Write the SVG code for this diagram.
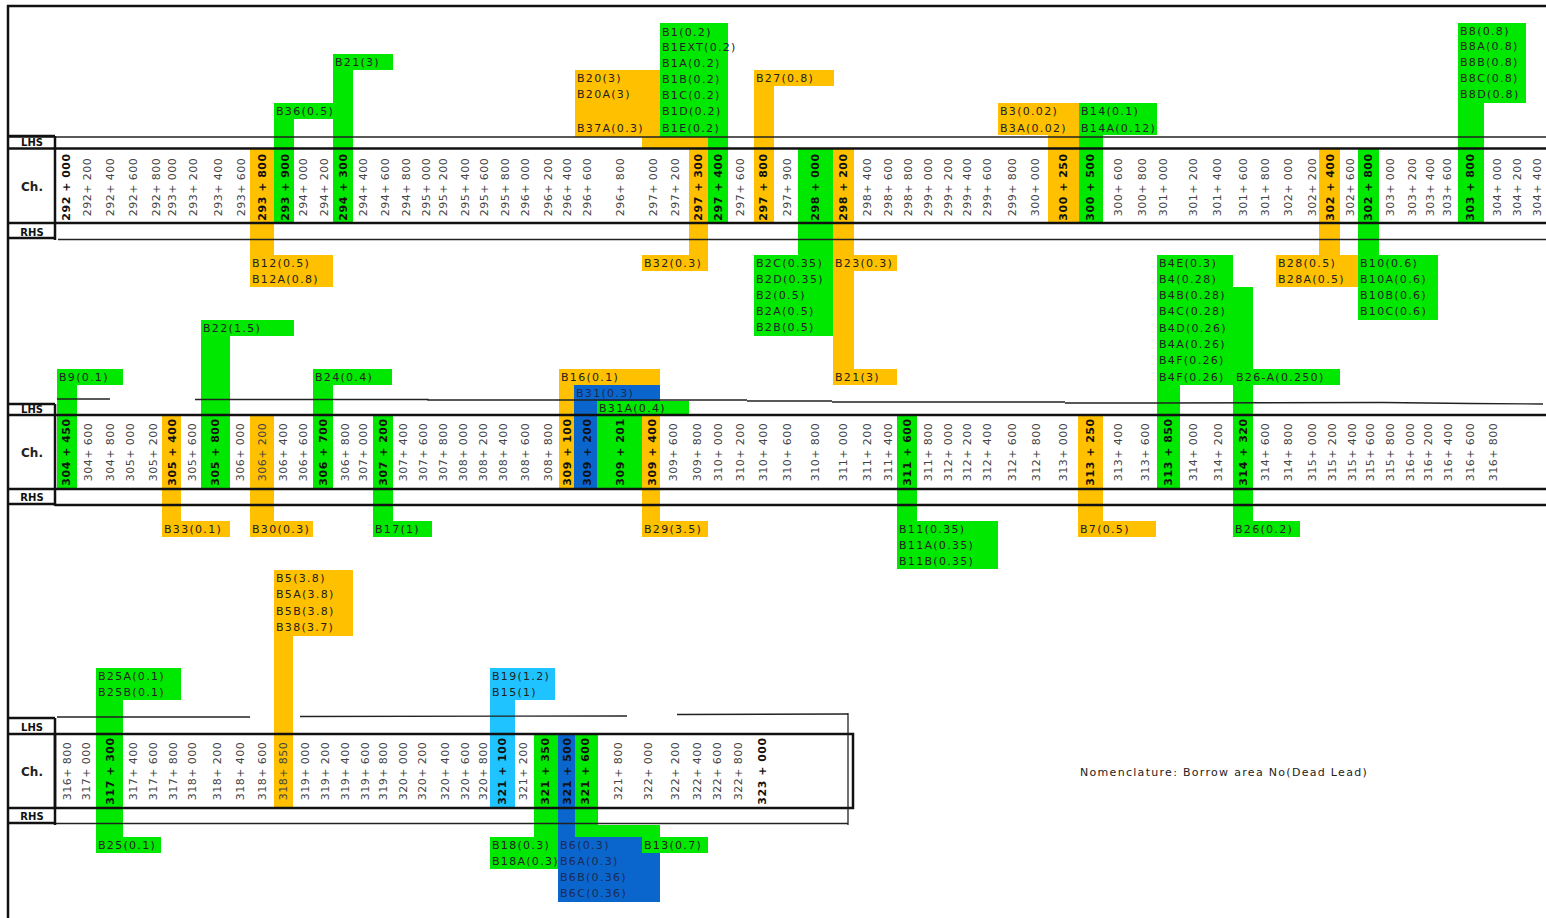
<svg xmlns="http://www.w3.org/2000/svg" width="1546" height="918" viewBox="0 0 1546 918">
<style>
.g{fill:#00E800}.o{fill:#FFC000}.b{fill:#0A66CC}.c{fill:#1EC3FF}
.lb{font-family:'DejaVu Sans',Verdana,sans-serif;font-size:11px;letter-spacing:1.3px;fill:#222}
.ch{font-family:'DejaVu Sans',Verdana,sans-serif;font-size:11px;fill:#444;text-anchor:middle;letter-spacing:0.5px}
.bd{font-weight:bold;fill:#111}
.hd{font-family:'DejaVu Sans',Verdana,sans-serif;font-weight:bold;font-size:10px;text-anchor:middle;fill:#111}
.hc{font-family:'DejaVu Sans',Verdana,sans-serif;font-weight:bold;font-size:12px;text-anchor:middle;fill:#222}
.tk{stroke:#111;stroke-width:2.5;fill:none}
.tn{stroke:#222;stroke-width:1.3;fill:none}
</style>
<rect width="1546" height="918" fill="#fff"/>

<!-- Row 1 top borrow areas -->
<g id="B21-3-top"><rect class="g" x="333" y="54" width="60" height="16"/><rect class="g" x="333" y="54" width="20" height="169"/><text class="lb" x="335" y="66">B21(3)</text></g>
<g id="B36"><rect class="g" x="274" y="103" width="62" height="16"/><rect class="g" x="274" y="103" width="20" height="120"/><text class="lb" x="276" y="115">B36(0.5)</text></g>
<g id="B20"><rect class="o" x="575" y="70" width="85" height="67"/><rect class="o" x="642" y="120" width="66" height="28"/><rect class="o" x="689" y="120" width="19" height="135"/><rect class="o" x="642" y="255" width="66" height="16"/>
<text class="lb" x="577" y="82">B20(3)</text><text class="lb" x="577" y="98">B20A(3)</text><text class="lb" x="577" y="132">B37A(0.3)</text><text class="lb" x="644" y="267">B32(0.3)</text></g>
<g id="B1"><rect class="g" x="660" y="23" width="68" height="114"/><rect class="g" x="708" y="23" width="20" height="200"/>
<text class="lb" x="662" y="36">B1(0.2)</text><text class="lb" x="662" y="51">B1EXT(0.2)</text><text class="lb" x="662" y="67">B1A(0.2)</text><text class="lb" x="662" y="83">B1B(0.2)</text><text class="lb" x="662" y="99">B1C(0.2)</text><text class="lb" x="662" y="115">B1D(0.2)</text><text class="lb" x="662" y="132">B1E(0.2)</text></g>
<g id="B27"><rect class="o" x="754" y="70" width="80" height="16"/><rect class="o" x="754" y="70" width="20" height="153"/><text class="lb" x="756" y="82">B27(0.8)</text></g>
<g id="B3"><rect class="o" x="998" y="103" width="81" height="32"/><rect class="o" x="1048" y="103" width="31" height="120"/><text class="lb" x="1000" y="115">B3(0.02)</text><text class="lb" x="1000" y="132">B3A(0.02)</text></g>
<g id="B14"><rect class="g" x="1079" y="103" width="78" height="32"/><rect class="g" x="1079" y="103" width="24" height="120"/><text class="lb" x="1081" y="115">B14(0.1)</text><text class="lb" x="1081" y="132">B14A(0.12)</text></g>
<g id="B8"><rect class="g" x="1458" y="23" width="68" height="80"/><rect class="g" x="1458" y="23" width="26" height="200"/>
<text class="lb" x="1460" y="35">B8(0.8)</text><text class="lb" x="1460" y="50">B8A(0.8)</text><text class="lb" x="1460" y="66">B8B(0.8)</text><text class="lb" x="1460" y="82">B8C(0.8)</text><text class="lb" x="1460" y="98">B8D(0.8)</text></g>

<!-- Row 1 bottom -->
<g id="B12"><rect class="o" x="250" y="148" width="24" height="110"/><rect class="o" x="250" y="255" width="83" height="32"/><text class="lb" x="252" y="267">B12(0.5)</text><text class="lb" x="252" y="283">B12A(0.8)</text></g>
<g id="B2"><rect class="g" x="798" y="148" width="35" height="110"/><rect class="g" x="754" y="255" width="79" height="81"/>
<text class="lb" x="756" y="267">B2C(0.35)</text><text class="lb" x="756" y="283">B2D(0.35)</text><text class="lb" x="756" y="299">B2(0.5)</text><text class="lb" x="756" y="315">B2A(0.5)</text><text class="lb" x="756" y="331">B2B(0.5)</text></g>
<g id="B23"><rect class="o" x="833" y="148" width="21" height="237"/><rect class="o" x="833" y="255" width="64" height="16"/><rect class="o" x="833" y="369" width="64" height="16"/><text class="lb" x="835" y="267">B23(0.3)</text><text class="lb" x="835" y="381">B21(3)</text></g>
<g id="B28"><rect class="o" x="1319" y="148" width="21" height="110"/><rect class="o" x="1276" y="255" width="82" height="32"/><text class="lb" x="1278" y="267">B28(0.5)</text><text class="lb" x="1278" y="283">B28A(0.5)</text></g>
<g id="B10"><rect class="g" x="1358" y="148" width="21" height="110"/><rect class="g" x="1358" y="255" width="80" height="65"/>
<text class="lb" x="1360" y="267">B10(0.6)</text><text class="lb" x="1360" y="283">B10A(0.6)</text><text class="lb" x="1360" y="299">B10B(0.6)</text><text class="lb" x="1360" y="315">B10C(0.6)</text></g>

<!-- Row 2 top -->
<g id="B4"><rect class="g" x="1157" y="255" width="76" height="130"/><rect class="g" x="1157" y="380" width="23" height="109"/><rect class="g" x="1233" y="287" width="20" height="250"/><rect class="g" x="1233" y="369" width="107" height="16"/>
<text class="lb" x="1159" y="267">B4E(0.3)</text><text class="lb" x="1159" y="283">B4(0.28)</text><text class="lb" x="1159" y="299">B4B(0.28)</text><text class="lb" x="1159" y="315">B4C(0.28)</text><text class="lb" x="1159" y="332">B4D(0.26)</text><text class="lb" x="1159" y="348">B4A(0.26)</text><text class="lb" x="1159" y="364">B4F(0.26)</text><text class="lb" x="1159" y="381">B4F(0.26)</text><text class="lb" x="1236" y="381">B26-A(0.250)</text></g>
<g id="B26"><rect class="g" x="1233" y="521" width="67" height="16"/><text class="lb" x="1235" y="533">B26(0.2)</text></g>
<g id="B9"><rect class="g" x="57" y="369" width="66" height="16"/><rect class="g" x="57" y="369" width="20" height="120"/><text class="lb" x="59" y="381">B9(0.1)</text></g>
<g id="B22"><rect class="g" x="201" y="320" width="93" height="16"/><rect class="g" x="201" y="320" width="29" height="169"/><text class="lb" x="203" y="332">B22(1.5)</text></g>
<g id="B24"><rect class="g" x="313" y="369" width="79" height="16"/><rect class="g" x="313" y="369" width="20" height="120"/><text class="lb" x="315" y="381">B24(0.4)</text></g>
<g id="B16"><rect class="o" x="559" y="369" width="101" height="120"/><rect class="o" x="642" y="480" width="18" height="44"/><rect class="o" x="642" y="521" width="66" height="16"/><text class="lb" x="561" y="381">B16(0.1)</text><text class="lb" x="644" y="533">B29(3.5)</text></g>
<g id="B31"><rect class="b" x="574" y="385" width="86" height="16"/><rect class="b" x="574" y="385" width="23" height="104"/><text class="lb" x="576" y="397" style="fill:#1a2a55">B31(0.3)</text></g>
<g id="B31A"><rect class="g" x="597" y="401" width="92" height="14"/><rect class="g" x="597" y="401" width="45" height="88"/><text class="lb" x="599" y="412">B31A(0.4)</text></g>

<!-- Row 2 bottom -->
<g id="B33"><rect class="o" x="162" y="415" width="19" height="110"/><rect class="o" x="162" y="521" width="68" height="16"/><text class="lb" x="164" y="533">B33(0.1)</text></g>
<g id="B30"><rect class="o" x="250" y="415" width="24" height="110"/><rect class="o" x="250" y="521" width="63" height="16"/><text class="lb" x="252" y="533">B30(0.3)</text></g>
<g id="B17"><rect class="g" x="373" y="415" width="20" height="110"/><rect class="g" x="373" y="521" width="59" height="16"/><text class="lb" x="375" y="533">B17(1)</text></g>
<g id="B11"><rect class="g" x="897" y="415" width="20" height="110"/><rect class="g" x="897" y="521" width="101" height="48"/><text class="lb" x="899" y="533">B11(0.35)</text><text class="lb" x="899" y="549">B11A(0.35)</text><text class="lb" x="899" y="565">B11B(0.35)</text></g>
<g id="B7"><rect class="o" x="1078" y="415" width="25" height="110"/><rect class="o" x="1078" y="521" width="78" height="16"/><text class="lb" x="1080" y="533">B7(0.5)</text></g>

<!-- Row 3 -->
<g id="B5"><rect class="o" x="274" y="570" width="79" height="66"/><rect class="o" x="274" y="570" width="19" height="238"/>
<text class="lb" x="276" y="582">B5(3.8)</text><text class="lb" x="276" y="598">B5A(3.8)</text><text class="lb" x="276" y="615">B5B(3.8)</text><text class="lb" x="276" y="631">B38(3.7)</text></g>
<g id="B25"><rect class="g" x="96" y="668" width="85" height="32"/><rect class="g" x="96" y="668" width="27" height="185"/><rect class="g" x="96" y="837" width="65" height="16"/>
<text class="lb" x="98" y="680">B25A(0.1)</text><text class="lb" x="98" y="696">B25B(0.1)</text><text class="lb" x="98" y="849">B25(0.1)</text></g>
<g id="B19"><rect class="c" x="490" y="668" width="65" height="32"/><rect class="c" x="490" y="668" width="25" height="140"/><text class="lb" x="492" y="680">B19(1.2)</text><text class="lb" x="492" y="696">B15(1)</text></g>
<g id="B18"><rect class="g" x="534" y="734" width="24" height="106"/><rect class="g" x="490" y="837" width="68" height="32"/><text class="lb" x="492" y="849">B18(0.3)</text><text class="lb" x="492" y="865">B18A(0.3)</text></g>
<g id="B6"><rect class="b" x="558" y="734" width="17" height="106"/><rect class="b" x="558" y="837" width="102" height="65"/>
<text class="lb" x="560" y="849" style="fill:#1a2a55">B6(0.3)</text><text class="lb" x="560" y="865" style="fill:#1a2a55">B6A(0.3)</text><text class="lb" x="560" y="881" style="fill:#1a2a55">B6B(0.36)</text><text class="lb" x="560" y="897" style="fill:#1a2a55">B6C(0.36)</text></g>
<g id="B13"><rect class="g" x="575" y="734" width="23" height="95"/><rect class="g" x="575" y="825" width="85" height="12"/><rect class="g" x="642" y="837" width="66" height="16"/><text class="lb" x="644" y="849">B13(0.7)</text></g>

<!-- Frame and strip lines -->
<g id="connectors">
<line class="tk" x1="8" y1="5" x2="8" y2="918"/>
<line class="tk" x1="7" y1="6" x2="1546" y2="6"/>
<!-- row 1 -->
<line class="tn" x1="8" y1="137" x2="1546" y2="137"/>
<line class="tk" x1="8" y1="136" x2="55" y2="136"/>
<line class="tk" x1="8" y1="148.5" x2="1546" y2="148.5"/>
<line class="tk" x1="8" y1="223" x2="1546" y2="223"/>
<line class="tk" x1="8" y1="238" x2="55" y2="238"/>
<line class="tn" x1="58" y1="239.5" x2="1546" y2="239.5"/>
<line class="tk" x1="55" y1="136" x2="55" y2="240"/>
<!-- row 2 -->
<polyline class="tn" points="57,399 110,399"/>
<polyline class="tn" points="195,399.5 428,399.5 428,400 747,400"/>
<polyline class="tn" points="747,401 832,401"/>
<polyline class="tn" points="832,402 1065,402"/>
<polyline class="tn" points="1065,403 1153,403 1383,402.5 1470,403.5 1543,404"/>
<line class="tk" x1="8" y1="404" x2="55" y2="404"/>
<line class="tk" x1="8" y1="415" x2="1546" y2="415"/>
<line class="tk" x1="8" y1="489" x2="1546" y2="489"/>
<line class="tk" x1="8" y1="504" x2="55" y2="504"/>
<line class="tk" x1="55" y1="505" x2="1546" y2="505"/>
<line class="tk" x1="55" y1="404" x2="55" y2="506"/>
<!-- row 3 -->
<polyline class="tn" points="57,717 250,717"/>
<polyline class="tn" points="300,716.5 627,716"/>
<polyline class="tn" points="677,714.5 848,714"/>
<line class="tk" x1="8" y1="718" x2="55" y2="718"/>
<rect class="tk" x="55" y="734" width="798" height="74"/>
<line class="tk" x1="8" y1="734" x2="55" y2="734"/>
<line class="tk" x1="8" y1="808" x2="55" y2="808"/>
<line class="tk" x1="8" y1="823" x2="55" y2="823"/>
<line class="tn" x1="55" y1="823.5" x2="848" y2="823.5"/>
<line class="tk" x1="55" y1="718" x2="55" y2="825"/>
<line class="tn" x1="848" y1="713" x2="848" y2="825"/>
</g>

<g id="headers">
<text class="hd" x="32" y="146">LHS</text><text class="hc" x="32" y="191">Ch.</text><text class="hd" x="32" y="236">RHS</text>
<text class="hd" x="32" y="413">LHS</text><text class="hc" x="32" y="457">Ch.</text><text class="hd" x="32" y="501">RHS</text>
<text class="hd" x="32" y="731">LHS</text><text class="hc" x="32" y="776">Ch.</text><text class="hd" x="32" y="820">RHS</text>
</g>

<g id="chainage-row1">
<text class="ch bd" transform="translate(66,187) rotate(-90)" dy="4">292 + 000</text>
<text class="ch" transform="translate(87,187) rotate(-90)" dy="4">292+ 200</text>
<text class="ch" transform="translate(110,187) rotate(-90)" dy="4">292+ 400</text>
<text class="ch" transform="translate(133,187) rotate(-90)" dy="4">292+ 600</text>
<text class="ch" transform="translate(156,187) rotate(-90)" dy="4">292+ 800</text>
<text class="ch" transform="translate(172,187) rotate(-90)" dy="4">293+ 000</text>
<text class="ch" transform="translate(193,187) rotate(-90)" dy="4">293+ 200</text>
<text class="ch" transform="translate(218,187) rotate(-90)" dy="4">293+ 400</text>
<text class="ch" transform="translate(241,187) rotate(-90)" dy="4">293+ 600</text>
<text class="ch bd" transform="translate(262,187) rotate(-90)" dy="4">293 + 800</text>
<text class="ch bd" transform="translate(285,187) rotate(-90)" dy="4">293 + 900</text>
<text class="ch" transform="translate(303,187) rotate(-90)" dy="4">294+ 000</text>
<text class="ch" transform="translate(324,187) rotate(-90)" dy="4">294+ 200</text>
<text class="ch bd" transform="translate(343,187) rotate(-90)" dy="4">294 + 300</text>
<text class="ch" transform="translate(363,187) rotate(-90)" dy="4">294+ 400</text>
<text class="ch" transform="translate(385,187) rotate(-90)" dy="4">294+ 600</text>
<text class="ch" transform="translate(406,187) rotate(-90)" dy="4">294+ 800</text>
<text class="ch" transform="translate(426,187) rotate(-90)" dy="4">295+ 000</text>
<text class="ch" transform="translate(443,187) rotate(-90)" dy="4">295+ 200</text>
<text class="ch" transform="translate(465,187) rotate(-90)" dy="4">295+ 400</text>
<text class="ch" transform="translate(484,187) rotate(-90)" dy="4">295+ 600</text>
<text class="ch" transform="translate(505,187) rotate(-90)" dy="4">295+ 800</text>
<text class="ch" transform="translate(525,187) rotate(-90)" dy="4">296+ 000</text>
<text class="ch" transform="translate(548,187) rotate(-90)" dy="4">296+ 200</text>
<text class="ch" transform="translate(567,187) rotate(-90)" dy="4">296+ 400</text>
<text class="ch" transform="translate(587,187) rotate(-90)" dy="4">296+ 600</text>
<text class="ch" transform="translate(620,187) rotate(-90)" dy="4">296+ 800</text>
<text class="ch" transform="translate(653,187) rotate(-90)" dy="4">297+ 000</text>
<text class="ch" transform="translate(675,187) rotate(-90)" dy="4">297+ 200</text>
<text class="ch bd" transform="translate(698,187) rotate(-90)" dy="4">297 + 300</text>
<text class="ch bd" transform="translate(718,187) rotate(-90)" dy="4">297 + 400</text>
<text class="ch" transform="translate(740,187) rotate(-90)" dy="4">297+ 600</text>
<text class="ch bd" transform="translate(763,187) rotate(-90)" dy="4">297 + 800</text>
<text class="ch" transform="translate(787,187) rotate(-90)" dy="4">297+ 900</text>
<text class="ch bd" transform="translate(815,187) rotate(-90)" dy="4">298 + 000</text>
<text class="ch bd" transform="translate(843,187) rotate(-90)" dy="4">298 + 200</text>
<text class="ch" transform="translate(867,187) rotate(-90)" dy="4">298+ 400</text>
<text class="ch" transform="translate(888,187) rotate(-90)" dy="4">298+ 600</text>
<text class="ch" transform="translate(908,187) rotate(-90)" dy="4">298+ 800</text>
<text class="ch" transform="translate(928,187) rotate(-90)" dy="4">299+ 000</text>
<text class="ch" transform="translate(948,187) rotate(-90)" dy="4">299+ 200</text>
<text class="ch" transform="translate(967,187) rotate(-90)" dy="4">299+ 400</text>
<text class="ch" transform="translate(987,187) rotate(-90)" dy="4">299+ 600</text>
<text class="ch" transform="translate(1012,187) rotate(-90)" dy="4">299+ 800</text>
<text class="ch" transform="translate(1035,187) rotate(-90)" dy="4">300+ 000</text>
<text class="ch bd" transform="translate(1063,187) rotate(-90)" dy="4">300 + 250</text>
<text class="ch bd" transform="translate(1090,187) rotate(-90)" dy="4">300 + 500</text>
<text class="ch" transform="translate(1118,187) rotate(-90)" dy="4">300+ 600</text>
<text class="ch" transform="translate(1142,187) rotate(-90)" dy="4">300+ 800</text>
<text class="ch" transform="translate(1163,187) rotate(-90)" dy="4">301+ 000</text>
<text class="ch" transform="translate(1193,187) rotate(-90)" dy="4">301+ 200</text>
<text class="ch" transform="translate(1217,187) rotate(-90)" dy="4">301+ 400</text>
<text class="ch" transform="translate(1243,187) rotate(-90)" dy="4">301+ 600</text>
<text class="ch" transform="translate(1265,187) rotate(-90)" dy="4">301+ 800</text>
<text class="ch" transform="translate(1288,187) rotate(-90)" dy="4">302+ 000</text>
<text class="ch" transform="translate(1312,187) rotate(-90)" dy="4">302+ 200</text>
<text class="ch bd" transform="translate(1330,187) rotate(-90)" dy="4">302 + 400</text>
<text class="ch" transform="translate(1350,187) rotate(-90)" dy="4">302+ 600</text>
<text class="ch bd" transform="translate(1368,187) rotate(-90)" dy="4">302 + 800</text>
<text class="ch" transform="translate(1390,187) rotate(-90)" dy="4">303+ 000</text>
<text class="ch" transform="translate(1412,187) rotate(-90)" dy="4">303+ 200</text>
<text class="ch" transform="translate(1430,187) rotate(-90)" dy="4">303+ 400</text>
<text class="ch" transform="translate(1447,187) rotate(-90)" dy="4">303+ 600</text>
<text class="ch bd" transform="translate(1470,187) rotate(-90)" dy="4">303 + 800</text>
<text class="ch" transform="translate(1497,187) rotate(-90)" dy="4">304+ 000</text>
<text class="ch" transform="translate(1517,187) rotate(-90)" dy="4">304+ 200</text>
<text class="ch" transform="translate(1537,187) rotate(-90)" dy="4">304+ 400</text>
</g>

<g id="chainage-row2">
<text class="ch bd" transform="translate(66,452) rotate(-90)" dy="4">304 + 450</text>
<text class="ch" transform="translate(88,452) rotate(-90)" dy="4">304+ 600</text>
<text class="ch" transform="translate(110,452) rotate(-90)" dy="4">304+ 800</text>
<text class="ch" transform="translate(130,452) rotate(-90)" dy="4">305+ 000</text>
<text class="ch" transform="translate(153,452) rotate(-90)" dy="4">305+ 200</text>
<text class="ch bd" transform="translate(172,452) rotate(-90)" dy="4">305 + 400</text>
<text class="ch" transform="translate(192,452) rotate(-90)" dy="4">305+ 600</text>
<text class="ch bd" transform="translate(215,452) rotate(-90)" dy="4">305 + 800</text>
<text class="ch" transform="translate(240,452) rotate(-90)" dy="4">306+ 000</text>
<text class="ch" transform="translate(262,452) rotate(-90)" dy="4">306+ 200</text>
<text class="ch" transform="translate(283,452) rotate(-90)" dy="4">306+ 400</text>
<text class="ch" transform="translate(303,452) rotate(-90)" dy="4">306+ 600</text>
<text class="ch bd" transform="translate(323,452) rotate(-90)" dy="4">306 + 700</text>
<text class="ch" transform="translate(345,452) rotate(-90)" dy="4">306+ 800</text>
<text class="ch" transform="translate(363,452) rotate(-90)" dy="4">307+ 000</text>
<text class="ch bd" transform="translate(383,452) rotate(-90)" dy="4">307 + 200</text>
<text class="ch" transform="translate(403,452) rotate(-90)" dy="4">307+ 400</text>
<text class="ch" transform="translate(423,452) rotate(-90)" dy="4">307+ 600</text>
<text class="ch" transform="translate(443,452) rotate(-90)" dy="4">307+ 800</text>
<text class="ch" transform="translate(463,452) rotate(-90)" dy="4">308+ 000</text>
<text class="ch" transform="translate(483,452) rotate(-90)" dy="4">308+ 200</text>
<text class="ch" transform="translate(503,452) rotate(-90)" dy="4">308+ 400</text>
<text class="ch" transform="translate(525,452) rotate(-90)" dy="4">308+ 600</text>
<text class="ch" transform="translate(548,452) rotate(-90)" dy="4">308+ 800</text>
<text class="ch bd" transform="translate(567,452) rotate(-90)" dy="4">309 + 100</text>
<text class="ch bd" transform="translate(587,452) rotate(-90)" dy="4">309 + 200</text>
<text class="ch bd" transform="translate(620,452) rotate(-90)" dy="4">309 + 201</text>
<text class="ch bd" transform="translate(652,452) rotate(-90)" dy="4">309 + 400</text>
<text class="ch" transform="translate(673,452) rotate(-90)" dy="4">309+ 600</text>
<text class="ch" transform="translate(697,452) rotate(-90)" dy="4">309+ 800</text>
<text class="ch" transform="translate(718,452) rotate(-90)" dy="4">310+ 000</text>
<text class="ch" transform="translate(740,452) rotate(-90)" dy="4">310+ 200</text>
<text class="ch" transform="translate(763,452) rotate(-90)" dy="4">310+ 400</text>
<text class="ch" transform="translate(787,452) rotate(-90)" dy="4">310+ 600</text>
<text class="ch" transform="translate(815,452) rotate(-90)" dy="4">310+ 800</text>
<text class="ch" transform="translate(843,452) rotate(-90)" dy="4">311+ 000</text>
<text class="ch" transform="translate(867,452) rotate(-90)" dy="4">311+ 200</text>
<text class="ch" transform="translate(888,452) rotate(-90)" dy="4">311+ 400</text>
<text class="ch bd" transform="translate(907,452) rotate(-90)" dy="4">311 + 600</text>
<text class="ch" transform="translate(928,452) rotate(-90)" dy="4">311+ 800</text>
<text class="ch" transform="translate(948,452) rotate(-90)" dy="4">312+ 000</text>
<text class="ch" transform="translate(967,452) rotate(-90)" dy="4">312+ 200</text>
<text class="ch" transform="translate(987,452) rotate(-90)" dy="4">312+ 400</text>
<text class="ch" transform="translate(1012,452) rotate(-90)" dy="4">312+ 600</text>
<text class="ch" transform="translate(1036,452) rotate(-90)" dy="4">312+ 800</text>
<text class="ch" transform="translate(1063,452) rotate(-90)" dy="4">313+ 000</text>
<text class="ch bd" transform="translate(1090,452) rotate(-90)" dy="4">313 + 250</text>
<text class="ch" transform="translate(1118,452) rotate(-90)" dy="4">313+ 400</text>
<text class="ch" transform="translate(1145,452) rotate(-90)" dy="4">313+ 600</text>
<text class="ch bd" transform="translate(1168,452) rotate(-90)" dy="4">313 + 850</text>
<text class="ch" transform="translate(1193,452) rotate(-90)" dy="4">314+ 000</text>
<text class="ch" transform="translate(1218,452) rotate(-90)" dy="4">314+ 200</text>
<text class="ch bd" transform="translate(1243,452) rotate(-90)" dy="4">314 + 320</text>
<text class="ch" transform="translate(1265,452) rotate(-90)" dy="4">314+ 600</text>
<text class="ch" transform="translate(1288,452) rotate(-90)" dy="4">314+ 800</text>
<text class="ch" transform="translate(1312,452) rotate(-90)" dy="4">315+ 000</text>
<text class="ch" transform="translate(1332,452) rotate(-90)" dy="4">315+ 200</text>
<text class="ch" transform="translate(1352,452) rotate(-90)" dy="4">315+ 400</text>
<text class="ch" transform="translate(1370,452) rotate(-90)" dy="4">315+ 600</text>
<text class="ch" transform="translate(1390,452) rotate(-90)" dy="4">315+ 800</text>
<text class="ch" transform="translate(1410,452) rotate(-90)" dy="4">316+ 000</text>
<text class="ch" transform="translate(1428,452) rotate(-90)" dy="4">316+ 200</text>
<text class="ch" transform="translate(1448,452) rotate(-90)" dy="4">316+ 400</text>
<text class="ch" transform="translate(1470,452) rotate(-90)" dy="4">316+ 600</text>
<text class="ch" transform="translate(1493,452) rotate(-90)" dy="4">316+ 800</text>
</g>

<g id="chainage-row3">
<text class="ch" transform="translate(67,771) rotate(-90)" dy="4">316+ 800</text>
<text class="ch" transform="translate(86,771) rotate(-90)" dy="4">317+ 000</text>
<text class="ch bd" transform="translate(110,771) rotate(-90)" dy="4">317 + 300</text>
<text class="ch" transform="translate(133,771) rotate(-90)" dy="4">317+ 400</text>
<text class="ch" transform="translate(153,771) rotate(-90)" dy="4">317+ 600</text>
<text class="ch" transform="translate(173,771) rotate(-90)" dy="4">317+ 800</text>
<text class="ch" transform="translate(192,771) rotate(-90)" dy="4">318+ 000</text>
<text class="ch" transform="translate(217,771) rotate(-90)" dy="4">318+ 200</text>
<text class="ch" transform="translate(240,771) rotate(-90)" dy="4">318+ 400</text>
<text class="ch" transform="translate(262,771) rotate(-90)" dy="4">318+ 600</text>
<text class="ch" transform="translate(283,771) rotate(-90)" dy="4">318+ 850</text>
<text class="ch" transform="translate(305,771) rotate(-90)" dy="4">319+ 000</text>
<text class="ch" transform="translate(325,771) rotate(-90)" dy="4">319+ 200</text>
<text class="ch" transform="translate(345,771) rotate(-90)" dy="4">319+ 400</text>
<text class="ch" transform="translate(365,771) rotate(-90)" dy="4">319+ 600</text>
<text class="ch" transform="translate(383,771) rotate(-90)" dy="4">319+ 800</text>
<text class="ch" transform="translate(403,771) rotate(-90)" dy="4">320+ 000</text>
<text class="ch" transform="translate(422,771) rotate(-90)" dy="4">320+ 200</text>
<text class="ch" transform="translate(445,771) rotate(-90)" dy="4">320+ 400</text>
<text class="ch" transform="translate(465,771) rotate(-90)" dy="4">320+ 600</text>
<text class="ch" transform="translate(483,771) rotate(-90)" dy="4">320+ 800</text>
<text class="ch bd" transform="translate(502,771) rotate(-90)" dy="4">321 + 100</text>
<text class="ch" transform="translate(523,771) rotate(-90)" dy="4">321+ 200</text>
<text class="ch bd" transform="translate(545,771) rotate(-90)" dy="4">321 + 350</text>
<text class="ch bd" transform="translate(567,771) rotate(-90)" dy="4">321 + 500</text>
<text class="ch bd" transform="translate(585,771) rotate(-90)" dy="4">321 + 600</text>
<text class="ch" transform="translate(618,771) rotate(-90)" dy="4">321+ 800</text>
<text class="ch" transform="translate(648,771) rotate(-90)" dy="4">322+ 000</text>
<text class="ch" transform="translate(675,771) rotate(-90)" dy="4">322+ 200</text>
<text class="ch" transform="translate(697,771) rotate(-90)" dy="4">322+ 400</text>
<text class="ch" transform="translate(717,771) rotate(-90)" dy="4">322+ 600</text>
<text class="ch" transform="translate(738,771) rotate(-90)" dy="4">322+ 800</text>
<text class="ch bd" transform="translate(762,771) rotate(-90)" dy="4">323 + 000</text>
</g>

<g id="nomenclature"><text class="lb" x="1080" y="776" style="letter-spacing:1.3px">Nomenclature: Borrow area No(Dead Lead)</text></g>
</svg>
